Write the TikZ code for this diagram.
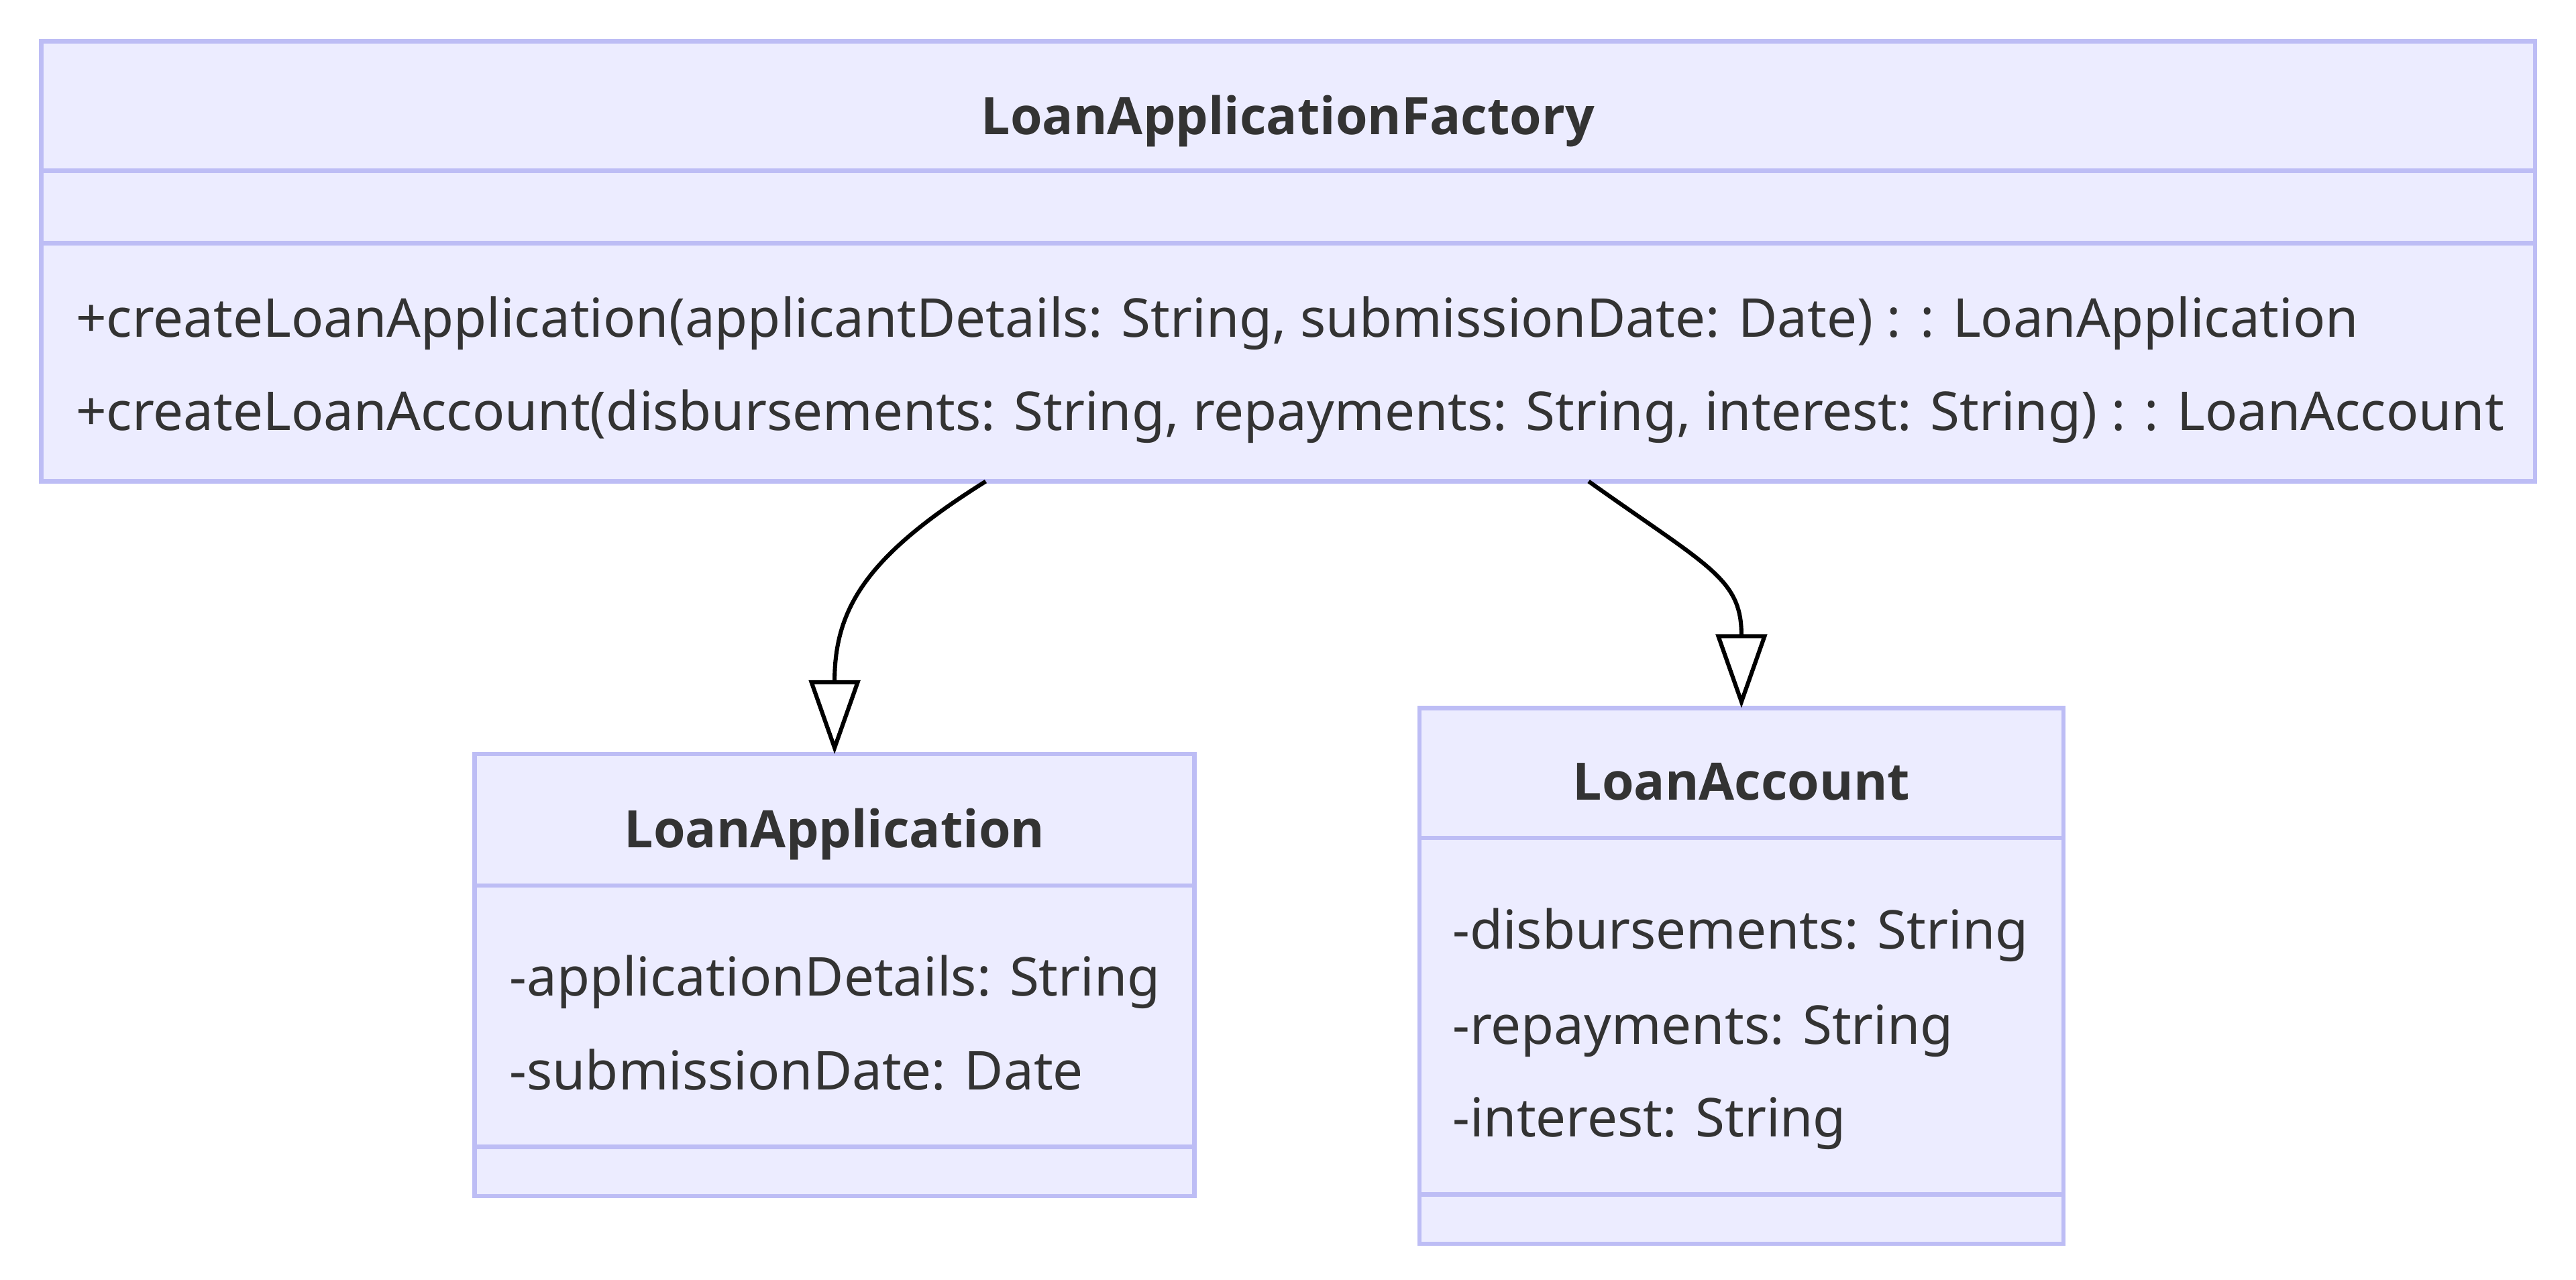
\documentclass[tikz,border=0pt]{standalone}
\usepackage{fontspec}
\setmainfont{Noto Sans}
\newfontfamily\titlefont{Open Sans}
\usetikzlibrary{arrows.meta,calc}
\definecolor{classfill}{HTML}{ECECFF}
\definecolor{classline}{HTML}{BDBDF5}
\definecolor{classtext}{HTML}{333333}
\def\divline(#1)(#2){\draw[divider] (#1.west |- 0,#2) -- (#1.east |- 0,#2);}

\tikzset{
	classbox/.style={draw=classline, fill=classfill, line width=2.7pt, inner sep=0pt, outer sep=0pt, anchor=north west},
	divider/.style={draw=classline, line width=2.7pt},
	classname/.style={anchor=base, inner sep=0pt, text=classtext, font=\fontsize{31.4}{38}\titlefont\bfseries},
	member/.style={anchor=base west, inner sep=0pt, text=classtext, font=\fontsize{32.6}{39}\selectfont},
	inherit/.style={line width=2.5pt, -{Triangle[open, length=45pt, width=31pt]}}
}

\begin{document}
\begin{tikzpicture}[x=1pt, y=-1pt]
			%%%%% START %%%%%
			
			\useasboundingbox (0, 0) rectangle (1568, 779);
			
			\node[classbox, minimum width=1518pt, minimum height=268pt] (factory) at (25, 25) {};
			\divline(factory)(104)
			\divline(factory)(148)
			\node[classname] (factorytitle) at (784, 82) {LoanApplicationFactory};
			\node[member] (factorym1) at (46, 205) {+createLoanApplication(applicantDetails: String, submissionDate: Date) : : LoanApplication};
			\node[member] (factorym2) at (46, 262) {+createLoanAccount(disbursements: String, repayments: String, interest: String) : : LoanAccount};
			
			\node[classbox, minimum width=438pt, minimum height=269pt] (loanapp) at (289, 459) {};
			\divline(loanapp)(539)
			\divline(loanapp)(698)
			\node[classname] (loanapptitle) at (508, 516) {LoanApplication};
			\node[member] (loanappa1) at (310, 606) {-applicationDetails: String};
			\node[member] (loanappa2) at (310, 663.5) {-submissionDate: Date};
			
			\node[classbox, minimum width=392pt, minimum height=326pt] (loanacct) at (864, 431) {};
			\divline(loanacct)(510)
			\divline(loanacct)(727)
			\node[classname] (loanaccttitle) at (1060, 487) {LoanAccount};
			\node[member] (loanaccta1) at (884, 577.5) {-disbursements: String};
			\node[member] (loanaccta2) at (884, 635.5) {-repayments: String};
			\node[member] (loanaccta3) at (884, 692) {-interest: String};
			
			\draw[inherit] ([xshift=575pt]factory.south west) .. controls (528, 338) and (508, 370) .. (loanapp.north);
			\draw[inherit] ([xshift=942pt]factory.south west) .. controls (1040, 345) and (1060, 352) .. (loanacct.north);
			
			%%%%% END %%%%%
\end{tikzpicture}
\end{document}
